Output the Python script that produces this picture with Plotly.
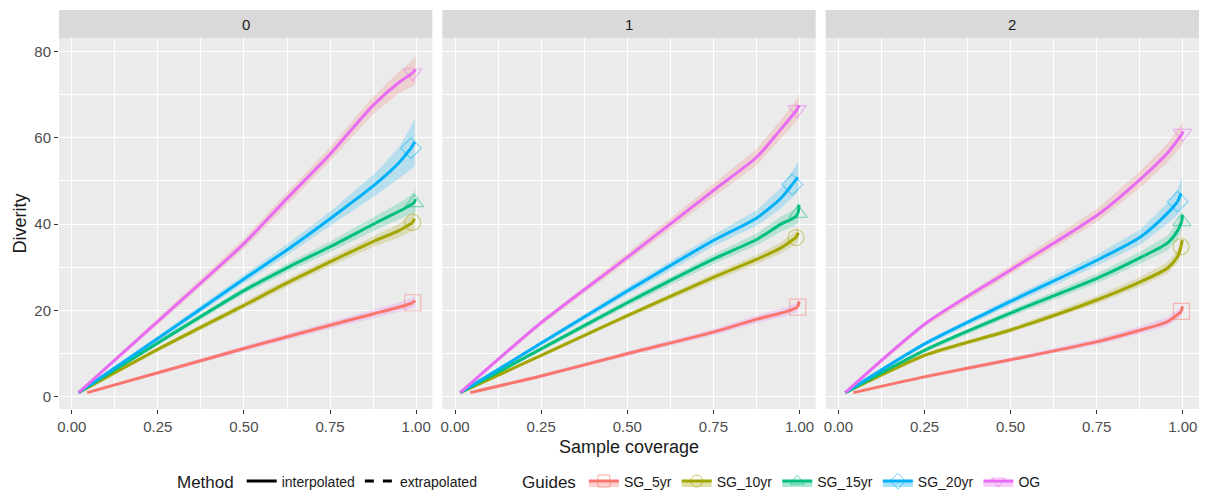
import plotly.graph_objects as go

facets = ["0", "1", "2"]
guides = ["SG_5yr", "SG_10yr", "SG_15yr", "SG_20yr", "OG"]
colors = ["#F8766D", "#A3A500", "#00BF7D", "#00B0F6", "#E76BF3"]
band_colors = ["#E76BF3", "#A3A500", "#00BF7D", "#00B0F6", "#F8766D"]
symbols = ["square-open", "circle-open", "triangle-up-open", "diamond-open", "triangle-down-open"]
methods = ["interpolated", "extrapolated"]

x_ticks = [0, 0.25, 0.5, 0.75, 1.0]
x_tick_labels = ["0.00", "0.25", "0.50", "0.75", "1.00"]
x_minor = [0.125, 0.375, 0.625, 0.875]
y_ticks = [0, 20, 40, 60, 80]
y_minor = [10, 30, 50, 70]

# ---- panel "0": interpolated curve (last point = observed sample) ----
cov0 = {
    "SG_5yr": [0.045, 0.25, 0.5, 0.75, 0.875, 0.96, 0.99],
    "SG_10yr": [0.02, 0.25, 0.5, 0.628, 0.756, 0.881, 0.95, 0.99],
    "SG_15yr": [0.02, 0.25, 0.5, 0.628, 0.756, 0.881, 0.97, 0.995],
    "SG_20yr": [0.02, 0.25, 0.5, 0.628, 0.756, 0.881, 0.95, 0.985],
    "OG": [0.02, 0.25, 0.5, 0.628, 0.75, 0.875, 0.95, 0.99],
}
div0 = {
    "SG_5yr": [1, 5.6, 11.2, 16.6, 19.2, 21.0, 21.8],
    "SG_10yr": [1, 11.0, 21.2, 26.5, 31.5, 36.2, 38.5, 40.4],
    "SG_15yr": [1, 12.5, 24.6, 30.0, 35.0, 40.2, 43.8, 45.0],
    "SG_20yr": [1, 13.5, 27.3, 34.2, 41.6, 49.2, 54.2, 57.6],
    "OG": [1, 17.5, 35.5, 46.2, 56.2, 67.5, 72.8, 75.0],
}
ci0 = {
    "SG_5yr": [0.2, 0.4, 0.6, 0.8, 1.0, 1.1, 1.2],
    "SG_10yr": [0.2, 0.5, 0.8, 0.9, 1.0, 1.3, 1.6, 2.0],
    "SG_15yr": [0.2, 0.5, 0.8, 1.0, 1.2, 1.6, 2.0, 2.5],
    "SG_20yr": [0.2, 0.6, 1.0, 1.3, 1.7, 2.6, 3.6, 5.0],
    "OG": [0.2, 0.8, 1.2, 1.4, 1.6, 2.0, 2.5, 3.0],
}
ext0 = {  # extrapolated end: coverage, diversity, ci
    "SG_5yr": [0.997, 22.3, 1.3],
    "SG_10yr": [0.995, 41.3, 2.2],
    "SG_15yr": [0.998, 45.8, 2.8],
    "SG_20yr": [0.996, 59.0, 5.5],
    "OG": [0.998, 75.8, 3.2],
}

# ---- panel "1" ----
cov1 = {
    "SG_5yr": [0.044, 0.247, 0.5, 0.75, 0.877, 0.964, 0.995],
    "SG_10yr": [0.015, 0.247, 0.5, 0.75, 0.877, 0.946, 0.99],
    "SG_15yr": [0.015, 0.247, 0.5, 0.75, 0.877, 0.946, 0.985, 0.996],
    "SG_20yr": [0.015, 0.247, 0.5, 0.75, 0.877, 0.946, 0.979],
    "OG": [0.015, 0.247, 0.5, 0.75, 0.877, 0.946, 0.993],
}
div1 = {
    "SG_5yr": [1, 4.8, 10.0, 15.0, 18.0, 19.8, 20.8],
    "SG_10yr": [1, 9.5, 18.8, 27.7, 31.9, 34.5, 36.9],
    "SG_15yr": [1, 11.0, 21.8, 31.9, 36.5, 40.0, 41.5, 42.5],
    "SG_20yr": [1, 12.3, 24.5, 36.2, 41.5, 46.0, 49.2],
    "OG": [1, 17.0, 32.3, 47.8, 55.6, 62.0, 66.5],
}
ci1 = {
    "SG_5yr": [0.2, 0.4, 0.5, 0.7, 0.9, 1.0, 1.1],
    "SG_10yr": [0.2, 0.4, 0.6, 0.9, 1.1, 1.3, 1.5],
    "SG_15yr": [0.2, 0.5, 0.8, 1.1, 1.4, 1.7, 1.9, 2.1],
    "SG_20yr": [0.2, 0.5, 0.9, 1.3, 1.8, 2.4, 3.0],
    "OG": [0.2, 0.6, 1.0, 1.5, 1.9, 2.2, 2.5],
}
ext1 = {
    "SG_5yr": [0.999, 22.1, 1.3],
    "SG_10yr": [0.997, 38.0, 1.7],
    "SG_15yr": [0.999, 44.5, 2.3],
    "SG_20yr": [0.997, 51.0, 3.5],
    "OG": [0.999, 67.5, 2.7],
}

# ---- panel "2" ----
cov2 = {
    "SG_5yr": [0.044, 0.253, 0.5, 0.752, 0.878, 0.955, 0.996],
    "SG_10yr": [0.02, 0.253, 0.5, 0.752, 0.878, 0.955, 0.985, 0.995],
    "SG_15yr": [0.02, 0.253, 0.5, 0.752, 0.878, 0.955, 0.985, 0.997],
    "SG_20yr": [0.02, 0.253, 0.5, 0.752, 0.878, 0.955, 0.985],
    "OG": [0.02, 0.253, 0.5, 0.752, 0.878, 0.955, 0.999],
}
div2 = {
    "SG_5yr": [1, 4.7, 8.6, 12.8, 15.5, 17.4, 19.8],
    "SG_10yr": [1, 9.7, 15.5, 22.5, 26.7, 29.8, 32.5, 34.8],
    "SG_15yr": [1, 10.9, 19.4, 27.5, 32.3, 35.6, 38.5, 40.6],
    "SG_20yr": [1, 12.4, 22.1, 31.7, 37.1, 42.5, 45.2],
    "OG": [1, 17.0, 29.4, 42.1, 50.5, 56.4, 61.0],
}
ci2 = {
    "SG_5yr": [0.2, 0.4, 0.5, 0.7, 0.9, 1.0, 1.2],
    "SG_10yr": [0.2, 0.4, 0.6, 0.9, 1.1, 1.3, 1.5, 1.7],
    "SG_15yr": [0.2, 0.5, 0.8, 1.1, 1.4, 1.7, 2.0, 2.3],
    "SG_20yr": [0.2, 0.5, 0.9, 1.3, 1.8, 2.4, 3.0],
    "OG": [0.2, 0.6, 1.0, 1.5, 1.9, 2.2, 2.6],
}
ext2 = {
    "SG_5yr": [0.999, 21.0, 1.4],
    "SG_10yr": [0.998, 36.3, 1.9],
    "SG_15yr": [0.999, 42.1, 2.5],
    "SG_20yr": [0.997, 47.5, 3.5],
    "OG": [1.0, 61.5, 2.8],
}

panels = [(cov0, div0, ci0, ext0), (cov1, div1, ci1, ext1), (cov2, div2, ci2, ext2)]


def rgba(hex_color, a):
    h = hex_color.lstrip("#")
    r, g, b = int(h[0:2], 16), int(h[2:4], 16), int(h[4:6], 16)
    return f"rgba({r},{g},{b},{a})"


FONT = "Liberation Sans, Arial, sans-serif"
fig = go.Figure()

# geometry (pixels, figure coordinates; the page adds an 8px body margin)
OFF = 8
W, H = 1213 - 2 * OFF, 500 - 2 * OFF
plot_left, plot_right = 59 - OFF, 1199 - OFF
plot_top, plot_bottom = 38 - OFF, 409 - OFF
L, R, T, B = plot_left, W - plot_right, plot_top, H - plot_bottom
plot_w = plot_right - plot_left
plot_h = plot_bottom - plot_top
gap = 10
pw = (plot_w - 2 * gap) / 3
domains = [[(i * (pw + gap)) / plot_w, (i * (pw + gap) + pw) / plot_w] for i in range(3)]
strip_h = 28 / plot_h


def px_x(page_x):
    return (page_x - OFF - plot_left) / plot_w


def px_y(page_y):
    return (plot_bottom - (page_y - OFF)) / plot_h


for p, (cov, div, ci, ext) in enumerate(panels):
    xa = "x" if p == 0 else f"x{p + 1}"
    ya = "y" if p == 0 else f"y{p + 1}"
    # confidence bands
    for g, name in enumerate(guides):
        xs = cov[name] + [ext[name][0]]
        ys = div[name] + [ext[name][1]]
        cs = ci[name] + [ext[name][2]]
        up = [y + c for y, c in zip(ys, cs)]
        lo = [y - c for y, c in zip(ys, cs)]
        fig.add_trace(go.Scatter(
            x=xs + xs[::-1], y=up + lo[::-1], xaxis=xa, yaxis=ya,
            fill="toself", fillcolor=rgba(band_colors[g], 0.22),
            line=dict(width=0), mode="lines", showlegend=False, hoverinfo="skip"))
    # lines
    for g, name in enumerate(guides):
        fig.add_trace(go.Scatter(
            x=cov[name], y=div[name], xaxis=xa, yaxis=ya, mode="lines",
            line=dict(color=colors[g], width=3, shape="spline", smoothing=0.7),
            showlegend=False, hoverinfo="skip"))
        fig.add_trace(go.Scatter(
            x=[cov[name][-1], ext[name][0]], y=[div[name][-1], ext[name][1]],
            xaxis=xa, yaxis=ya, mode="lines",
            line=dict(color=colors[g], width=3, dash="dash"),
            showlegend=False, hoverinfo="skip"))
    # observed points
    for g, name in enumerate(guides):
        fig.add_trace(go.Scatter(
            x=[cov[name][-1]], y=[div[name][-1]], xaxis=xa, yaxis=ya, mode="markers",
            marker=dict(symbol=symbols[g], size=16, color=colors[g], opacity=0.45,
                        line=dict(width=1.2, color=colors[g])),
            showlegend=False, hoverinfo="skip"))

# legend: Method
for m, dash in zip(methods, ["solid", "dash"]):
    fig.add_trace(go.Scatter(
        x=[None], y=[None], mode="lines", name=m, legend="legend",
        line=dict(color="black", width=3, dash=dash)))
# legend: Guides
for g, name in enumerate(guides):
    fig.add_trace(go.Scatter(
        x=[None], y=[None], mode="lines+markers", name=name, legend="legend2",
        fill="toself", fillcolor=rgba(colors[g], 0.35),
        line=dict(color=colors[g], width=3),
        marker=dict(symbol=symbols[g], size=12, color=colors[g], opacity=0.6)))

leg_y = px_y(482)
layout = dict(
    width=W, height=H,
    margin=dict(l=L, r=R, t=T, b=B, autoexpand=False),
    paper_bgcolor="white", plot_bgcolor="#EBEBEB",
    font=dict(family=FONT, color="#1A1A1A", size=14),
    showlegend=True,
    legend=dict(orientation="h", x=px_x(175), y=leg_y, xanchor="left", yanchor="middle",
                title=dict(text="Method", side="left", font=dict(size=17, family=FONT)),
                font=dict(size=14, family=FONT), bgcolor="rgba(0,0,0,0)", itemwidth=30),
    legend2=dict(orientation="h", x=px_x(520), y=leg_y, xanchor="left", yanchor="middle",
                 title=dict(text="Guides", side="left", font=dict(size=17, family=FONT)),
                 font=dict(size=14, family=FONT), bgcolor="rgba(0,0,0,0)", itemwidth=30),
)

shapes = []
annotations = []
for p in range(3):
    xk = "xaxis" if p == 0 else f"xaxis{p + 1}"
    yk = "yaxis" if p == 0 else f"yaxis{p + 1}"
    ya = "y" if p == 0 else f"y{p + 1}"
    layout[xk] = dict(
        domain=domains[p], range=[-0.037, 1.047], anchor=ya, automargin=False,
        tickvals=x_ticks, ticktext=x_tick_labels, ticks="outside", ticklen=4,
        tickcolor="#333333", tickwidth=1, tickfont=dict(size=15, color="#4D4D4D"),
        showgrid=True, gridcolor="white", gridwidth=1.2, zeroline=False, showline=False,
        minor=dict(tickvals=x_minor, showgrid=True, gridcolor="white", gridwidth=0.5, ticks=""),
    )
    layout[yk] = dict(
        domain=[0, 1], range=[-2.8, 83.1], anchor="x" if p == 0 else f"x{p + 1}",
        automargin=False,
        tickvals=y_ticks, ticks="outside" if p == 0 else "", ticklen=4,
        tickcolor="#333333", tickwidth=1, showticklabels=(p == 0),
        tickfont=dict(size=15, color="#4D4D4D"),
        showgrid=True, gridcolor="white", gridwidth=1.2, zeroline=False, showline=False,
        minor=dict(tickvals=y_minor, showgrid=True, gridcolor="white", gridwidth=0.5, ticks=""),
    )
    if p > 0:
        layout[yk]["matches"] = "y"
    xr = "x domain" if p == 0 else f"x{p + 1} domain"
    yr = "y domain" if p == 0 else f"y{p + 1} domain"
    shapes.append(dict(type="rect", xref=xr, yref=yr, x0=0, x1=1, y0=1, y1=1 + strip_h,
                       fillcolor="#D9D9D9", line=dict(width=0), layer="below"))
    annotations.append(dict(text=facets[p], xref=xr, yref=yr, x=0.5, y=1 + strip_h / 2,
                            showarrow=False, font=dict(size=15, color="#1A1A1A", family=FONT),
                            xanchor="center", yanchor="middle"))

annotations.append(dict(text="Sample coverage", xref="paper", yref="paper", x=0.5,
                        y=px_y(447), showarrow=False, xanchor="center",
                        yanchor="middle", font=dict(size=18, family=FONT, color="#1A1A1A")))
annotations.append(dict(text="Diverity", xref="paper", yref="paper", x=px_x(19),
                        y=0.5, showarrow=False, textangle=-90, xanchor="center",
                        yanchor="middle", font=dict(size=18, family=FONT, color="#1A1A1A")))

layout["shapes"] = shapes
layout["annotations"] = annotations
fig.update_layout(**layout)
fig.write_html("out.html")
